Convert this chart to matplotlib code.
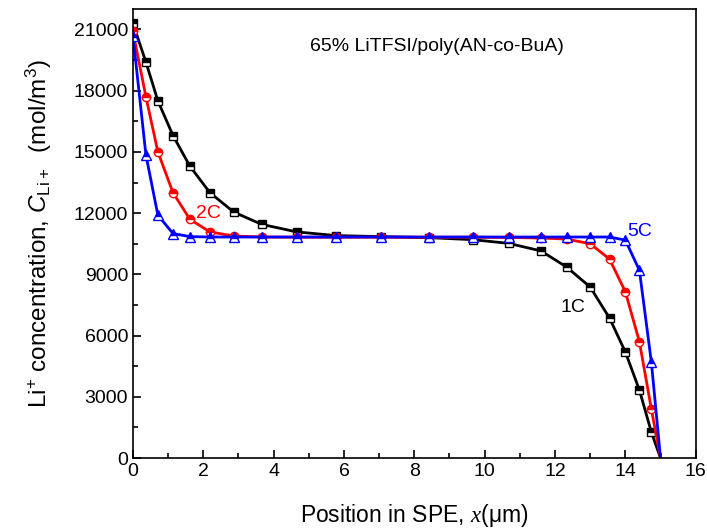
import matplotlib.pyplot as plt

plt.rcParams['font.family'] = 'Liberation Sans'
plt.rcParams['mathtext.fontset'] = 'custom'
plt.rcParams['mathtext.rm'] = 'Liberation Sans'
plt.rcParams['mathtext.it'] = 'Liberation Sans:italic'
plt.rcParams['mathtext.cal'] = 'Liberation Serif:italic'

# positions in SPE (um), shared by all three rates
x_pos = [0, 0.37, 0.71, 1.14, 1.62, 2.19, 2.87, 3.66, 4.66, 5.77, 7.05, 8.41,
         9.66, 10.68, 11.6, 12.33, 13.0, 13.55, 14.0, 14.4, 14.74, 15.0]

c_1c = [21300, 19400, 17500, 15800, 14300, 13000, 12050, 11450, 11080, 10900,
        10850, 10800, 10700, 10520, 10150, 9360, 8380, 6860, 5200, 3330, 1270, 0]
c_2c = [20900, 17700, 15000, 13000, 11700, 11080, 10880, 10830, 10820, 10820,
        10820, 10820, 10820, 10810, 10780, 10730, 10500, 9750, 8150, 5700, 2400, 0]
c_5c = [20700, 14850, 11900, 11000, 10850, 10830, 10830, 10830, 10830, 10830,
        10830, 10830, 10830, 10830, 10830, 10830, 10830, 10830, 10680, 9200, 4700, 0]

fig = plt.figure(figsize=(7.07, 5.32), dpi=100)
ax = fig.add_axes([0.188, 0.139, 0.796, 0.844])

series = [(c_1c, 'black', 's', 5.5), (c_2c, 'red', 'o', 6), (c_5c, 'blue', '^', 6.5)]
for c, col, m, ms in series:
    ax.plot(x_pos, c, color=col, linewidth=2, marker=m, markersize=ms,
            fillstyle='top', markerfacecolor=col, markerfacecoloralt='white',
            markeredgecolor=col, markeredgewidth=1.0,
            markevery=list(range(len(x_pos) - 1)))

ax.set_xlim(0, 16)
ax.set_ylim(0, 22000)
ax.set_xticks(range(0, 17, 2))
ax.set_xticks(range(0, 17, 1), minor=True)
ax.set_yticks(range(0, 21001, 3000))
ax.set_yticks(range(0, 22001, 1500), minor=True)
ax.tick_params(which='both', direction='in', labelsize=14, top=False, right=False)
ax.tick_params(which='major', length=6, width=1.2)
ax.tick_params(which='minor', length=3.5, width=1.2)
for s in ax.spines.values():
    s.set_linewidth(1.2)

ax.set_xlabel(r'Position in SPE, $\mathcal{x}$(μm)', fontsize=16.5, labelpad=16)
ax.set_ylabel(r'Li$^{+}$ concentration, $C_{\rm Li+}$  (mol/m$^{3}$)', fontsize=17.5, labelpad=14)

ax.text(8.64, 20150, '65% LiTFSI/poly(AN-co-BuA)', fontsize=14, ha='center', va='center')
ax.text(1.8, 12000, '2C', color='red', fontsize=14, ha='left', va='center')
ax.text(14.05, 11100, '5C', color='blue', fontsize=14, ha='left', va='center')
ax.text(12.15, 7400, '1C', color='black', fontsize=14, ha='left', va='center')

plt.savefig('out.png', dpi=100)
